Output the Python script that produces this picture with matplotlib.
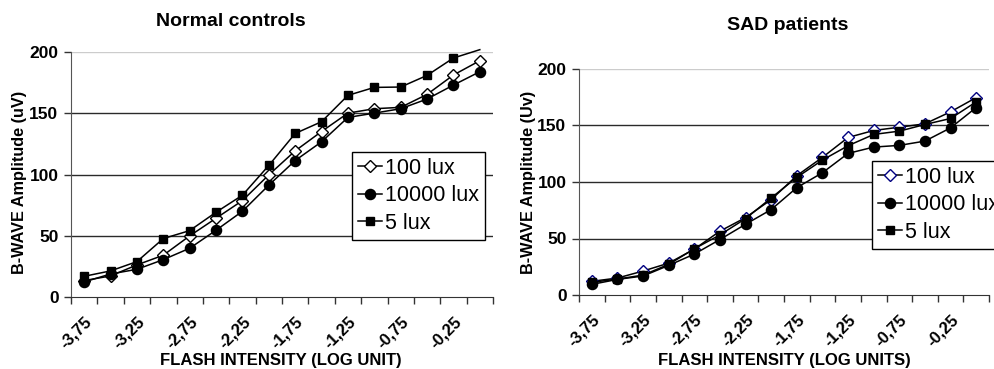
import matplotlib
matplotlib.use("Agg")
import matplotlib.pyplot as plt
import numpy as np

plt.rcParams['font.family'] = ['Liberation Sans', 'DejaVu Sans']

# Flash intensity categories (log units), 16 steps of 0.25
intensity = [-3.75, -3.5, -3.25, -3.0, -2.75, -2.5, -2.25, -2.0,
             -1.75, -1.5, -1.25, -1.0, -0.75, -0.5, -0.25, 0.0]
tick_labels = ["-3,75", "-3,25", "-2,75", "-2,25", "-1,75", "-1,25", "-0,75", "-0,25"]

# Normal controls
nc_100 = [13.4, 17.2, 26.2, 34.1, 49.9, 64.3, 78.7, 99.7,
          119.3, 135.1, 150.1, 153.7, 154.8, 165.4, 181.2, 192.9]
nc_10000 = [12.3, 18.8, 22.6, 30.5, 39.8, 54.5, 70.0, 91.3,
            111.4, 126.7, 146.6, 150.1, 153.7, 161.6, 173.0, 183.9]
nc_5 = [16.9, 21.3, 28.9, 47.7, 54.2, 69.2, 83.1, 107.4,
        133.5, 143.1, 164.6, 171.1, 171.4, 180.9, 195.1, 201.9]

# SAD patients
sad_100 = [12.1, 15.0, 21.2, 28.2, 40.6, 56.5, 68.5, 84.4,
           105.6, 121.8, 139.4, 145.6, 148.5, 151.5, 162.1, 174.7]
sad_10000 = [9.4, 13.8, 16.8, 26.2, 36.2, 49.1, 62.6, 75.6,
             95.0, 108.2, 125.3, 130.9, 132.4, 136.2, 147.9, 165.9]
sad_5 = [11.2, 14.1, 17.6, 27.1, 40.9, 53.2, 67.6, 85.9,
         104.1, 119.4, 132.1, 142.1, 145.0, 150.9, 156.2, 170.9]

YMAX = 200
W, H = 994, 369
fig = plt.figure(figsize=(W / 100, H / 100), dpi=100)


def px_axes(x0, y0, x1, y1):
    return fig.add_axes([x0 / W, 1 - y1 / H, (x1 - x0) / W, (y1 - y0) / H])


def visible(vals):
    # markers outside the plot area are not drawn (as in the original)
    return [i for i, v in enumerate(vals) if v <= YMAX]


def setup(ax, series, diamond_edge, legend_xy):
    n = len(intensity)
    idx = np.arange(n)
    d100, d10000, d5 = series
    ax.plot(idx, d100, '-', color='black', lw=1.1, marker='D', ms=6,
            mfc='white', mec=diamond_edge, mew=1.0, label='100 lux', zorder=3,
            markevery=visible(d100), clip_on=False)
    ax.plot(idx, d10000, '-', color='black', lw=1.1, marker='o', ms=7.3,
            mfc='black', mec='black', label='10000 lux', zorder=3,
            markevery=visible(d10000), clip_on=False)
    ax.plot(idx, d5, '-', color='black', lw=1.1, marker='s', ms=5.6,
            mfc='black', mec='black', label='5 lux', zorder=3,
            markevery=visible(d5), clip_on=False)
    ax.set_xlim(-0.5, n - 0.5)
    ax.set_ylim(0, YMAX)
    ax.set_yticks([0, 50, 100, 150, 200])
    for v in [50, 100, 150]:
        ax.axhline(v, color='#2a2a2a', lw=1.0, zorder=1)
    ax.axhline(200, color='#cccccc', lw=1.0, zorder=1)
    # category boundaries as tick marks, labels at every other category
    ax.set_xticks(np.arange(-0.5, n, 1.0), minor=True)
    ax.set_xticks(idx[::2])
    ax.set_xticklabels(tick_labels, rotation=45, ha='right',
                       rotation_mode='anchor', fontweight='bold', fontsize=12)
    ax.tick_params(axis='x', which='major', length=0, pad=12)
    ax.tick_params(axis='x', which='minor', length=5, width=1.0, color='#333333')
    ax.tick_params(axis='y', length=5, width=1.0, color='#333333', pad=4,
                   labelsize=12.5)
    for lab in ax.get_yticklabels():
        lab.set_fontweight('bold')
    for s in ['top', 'right']:
        ax.spines[s].set_visible(False)
    ax.spines['left'].set_color('#555555')
    ax.spines['bottom'].set_color('#333333')
    leg = ax.legend(loc='upper left', bbox_to_anchor=legend_xy,
                    bbox_transform=fig.transFigure, fontsize=15.5,
                    frameon=True, fancybox=False, edgecolor='black',
                    framealpha=1.0, borderpad=0.28, handlelength=1.1,
                    handletextpad=0.15, labelspacing=0.3, borderaxespad=0)
    leg.get_frame().set_linewidth(1.0)
    leg.set_zorder(5)


ax1 = px_axes(71, 52, 493, 297)
setup(ax1, (nc_100, nc_10000, nc_5), 'black', (352 / W, 1 - 152 / H))
ax2 = px_axes(579, 69, 989, 295)
setup(ax2, (sad_100, sad_10000, sad_5), '#000080', (872 / W, 1 - 161 / H))

fig.text(231 / W, 1 - 21 / H, "Normal controls", ha='center', va='center',
         fontsize=14, fontweight='bold')
fig.text(788 / W, 1 - 25 / H, "SAD patients", ha='center', va='center',
         fontsize=14, fontweight='bold')
fig.text(20 / W, 1 - 182 / H, "B-WAVE Amplitude (uV)", rotation=90,
         ha='center', va='center', fontsize=11.7, fontweight='bold')
fig.text(529 / W, 1 - 182 / H, "B-WAVE Amplitude (Uv)", rotation=90,
         ha='center', va='center', fontsize=11.7, fontweight='bold')
fig.text(281 / W, 1 - 361 / H, "FLASH INTENSITY (LOG UNIT)", ha='center',
         va='center', fontsize=12, fontweight='bold')
fig.text(784 / W, 1 - 361 / H, "FLASH INTENSITY (LOG UNITS)", ha='center',
         va='center', fontsize=12, fontweight='bold')

fig.savefig("out.png", dpi=100)
